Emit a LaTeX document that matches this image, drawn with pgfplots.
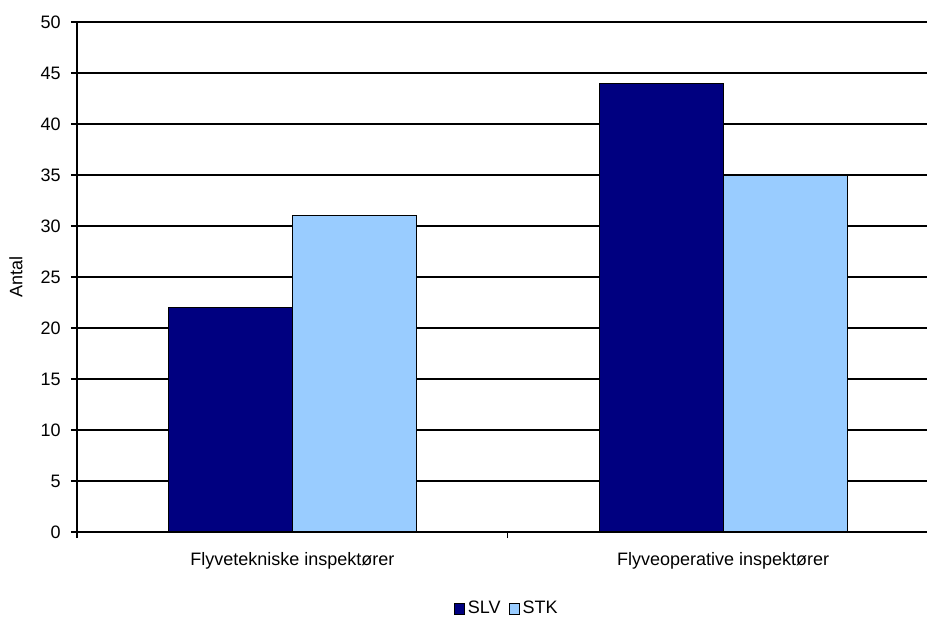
\documentclass[border=0pt]{standalone}
\usepackage{pgfplots}
\pgfplotsset{compat=1.18}
\usepackage{fontspec}
\setmainfont{Liberation Sans}
\definecolor{slv}{HTML}{000080}
\definecolor{stk}{HTML}{99CCFF}
\begin{document}
\fontsize{13.5pt}{16pt}\selectfont
\begin{tikzpicture}[x=1pt,y=1pt]
\path[use as bounding box] (-57.75,-65.25) rectangle (637.5,399);
\begin{axis}[
  at={(0,0)}, anchor=south west,
  scale only axis, width=637.5pt, height=382.5pt,
  ybar=0pt, bar width=93pt,
  xmin=-0.5, xmax=1.4733, ymin=0, ymax=50,
  ytick={0,5,...,50},
  xtick={-0.5,0.5},
  xticklabels={},
  extra x ticks={0,1},
  extra x tick labels={Flyvetekniske inspektører, Flyveoperative inspektører},
  extra x tick style={major tick length=0pt, grid=none, xticklabel style={yshift=-10.5pt}},
  tick align=outside,
  major tick length=4.5pt,
  tick style={black, line width=1pt},
  axis x line*=bottom, axis y line*=left,
  axis line style={black, line width=1.2pt},
  ymajorgrids, grid style={black, line width=0.9pt},
  ylabel={Antal},
  ylabel style={at={(axis description cs:-0.0718,0.5)}, anchor=center},
  yticklabel style={xshift=-3pt},
  /pgf/number format/assume math mode=true,
  ticklabel style={font=\fontsize{13.5pt}{16pt}\selectfont},
  label style={font=\fontsize{13.5pt}{16pt}\selectfont},
  legend style={at={(322.5pt,-57.75pt)}, anchor=center, draw=none, fill=none,
    legend columns=-1, font=\fontsize{13.5pt}{16pt}\selectfont,
    /tikz/every even column/.append style={column sep=4pt}},
  legend image code/.code={\draw[#1, draw=black, line width=0.6pt] (0cm,-0.14cm) rectangle (0.28cm,0.14cm);},
  every axis plot/.append style={draw=black, line width=0.8pt},
]
\addplot[fill=slv] coordinates {(0,22) (1,44)};
\addplot[fill=stk] coordinates {(0,31) (1,35)};
\legend{SLV, STK}
\end{axis}
\end{tikzpicture}
\end{document}
